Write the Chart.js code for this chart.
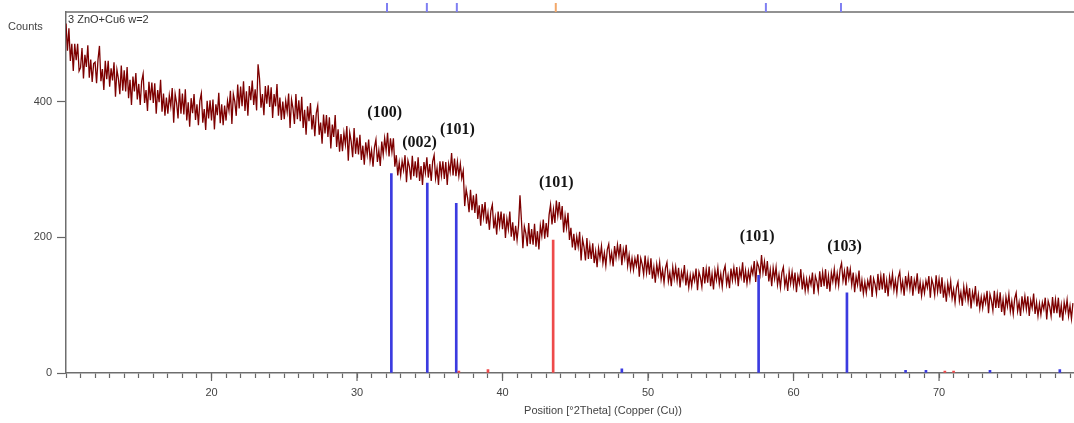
<!DOCTYPE html>
<html>
<head>
<meta charset="utf-8">
<script src="https://cdn.jsdelivr.net/npm/chart.js@4/dist/chart.umd.min.js"></script>
<style>
  html, body { margin: 0; padding: 0; background: #fff; overflow: hidden; }
  #wrap { width: 1078px; height: 423px; position: relative; }
</style>
</head>
<body>
<div id="wrap"><canvas id="chart"></canvas></div>
<script>
// scan: 2theta from 10.0 in steps of 0.1, one row per degree
const scanStart = 10;
const scanStep = 0.1;
const counts = [
  515, 475, 508, 460, 485, 445, 485, 461, 485, 445,   // 10
  450, 479, 434, 469, 451, 483, 435, 462, 429, 456,   // 11
  458, 427, 462, 482, 430, 448, 417, 460, 433, 460,   // 12
  422, 449, 431, 458, 407, 447, 434, 411, 453, 416,   // 13
  446, 415, 451, 405, 432, 395, 437, 415, 442, 403,   // 14
  426, 395, 430, 441, 398, 417, 386, 429, 402, 428,   // 15
  398, 427, 382, 417, 399, 432, 385, 412, 379, 406,   // 16
  382, 409, 393, 420, 369, 411, 398, 375, 419, 382,   // 17
  412, 381, 418, 372, 399, 363, 405, 383, 411, 373,   // 18
  396, 365, 401, 412, 369, 389, 358, 401, 375, 402,   // 19
  372, 403, 359, 396, 380, 413, 368, 396, 365, 394,   // 20
  372, 401, 387, 416, 367, 411, 400, 379, 425, 390,   // 21
  422, 393, 430, 386, 415, 379, 423, 402, 431, 395,   // 22
  418, 387, 455, 434, 391, 411, 380, 423, 397, 424,   // 23
  392, 421, 376, 411, 393, 426, 379, 406, 373, 400,   // 24
  374, 401, 385, 412, 361, 403, 390, 367, 411, 374,   // 25
  402, 371, 407, 361, 388, 351, 393, 371, 398, 359,   // 26
  380, 349, 383, 394, 351, 369, 338, 381, 353, 380,   // 27
  348, 377, 331, 366, 348, 380, 333, 359, 326, 352,   // 28
  327, 354, 337, 364, 313, 354, 341, 318, 361, 323,   // 29
  347, 322, 351, 314, 335, 307, 340, 322, 344, 313,   // 30
  328, 304, 333, 344, 311, 328, 305, 341, 322, 346,   // 31
  328, 354, 319, 346, 326, 346, 304, 321, 291, 310,   // 32
  291, 312, 299, 321, 281, 313, 304, 285, 320, 290,   // 33
  312, 288, 318, 283, 305, 277, 311, 295, 318, 288,   // 34
  308, 283, 312, 321, 287, 302, 277, 312, 291, 312,   // 35
  286, 311, 277, 308, 296, 324, 291, 316, 290, 311,   // 36
  290, 308, 287, 298, 246, 271, 258, 237, 270, 240,   // 37
  262, 236, 264, 227, 247, 217, 249, 230, 252, 220,   // 38
  236, 211, 239, 248, 213, 229, 204, 238, 217, 238,   // 39
  212, 235, 199, 227, 212, 238, 201, 222, 195, 217,   // 40
  196, 217, 262, 225, 184, 216, 206, 187, 221, 190,   // 41
  212, 189, 220, 186, 209, 182, 217, 202, 226, 198,   // 42
  221, 200, 233, 248, 219, 241, 221, 254, 232, 252,   // 43
  226, 246, 207, 232, 214, 236, 196, 214, 185, 205,   // 44
  181, 201, 186, 208, 166, 197, 186, 166, 199, 168,   // 45
  188, 168, 191, 162, 179, 156, 184, 169, 187, 162,   // 46
  177, 158, 182, 190, 164, 177, 157, 187, 170, 189,   // 47
  172, 190, 159, 182, 169, 189, 158, 174, 153, 169,   // 48
  152, 169, 158, 175, 142, 169, 160, 145, 173, 148,   // 49
  166, 145, 169, 139, 156, 133, 160, 145, 163, 138,   // 50
  152, 133, 155, 163, 135, 148, 128, 156, 139, 156,   // 51
  136, 155, 126, 149, 138, 159, 129, 146, 126, 144,   // 52
  128, 146, 136, 154, 122, 149, 141, 127, 156, 132,   // 53
  153, 133, 157, 128, 146, 123, 151, 137, 155, 131,   // 54
  146, 127, 150, 158, 131, 144, 125, 154, 137, 155,   // 55
  137, 156, 128, 152, 141, 163, 133, 151, 132, 150,   // 56
  136, 155, 146, 165, 134, 163, 157, 145, 174, 148,   // 57
  164, 143, 165, 135, 152, 128, 155, 139, 156, 130,   // 58
  145, 126, 148, 156, 128, 141, 121, 149, 132, 149,   // 59
  129, 148, 119, 143, 132, 153, 123, 141, 121, 138,   // 60
  122, 140, 130, 148, 116, 143, 135, 121, 150, 127,   // 61
  148, 128, 153, 124, 143, 120, 148, 135, 153, 130,   // 62
  147, 129, 153, 162, 136, 150, 129, 157, 139, 153,   // 63
  130, 148, 119, 142, 130, 151, 120, 137, 117, 134,   // 64
  118, 136, 126, 144, 112, 139, 131, 117, 146, 122,   // 65
  143, 123, 147, 118, 136, 113, 142, 128, 146, 122,   // 66
  137, 118, 141, 149, 122, 135, 114, 143, 126, 144,   // 67
  124, 143, 114, 137, 126, 147, 117, 134, 114, 132,   // 68
  118, 136, 126, 143, 111, 138, 130, 115, 144, 120,   // 69
  138, 117, 141, 111, 128, 105, 132, 117, 135, 110,   // 70
  123, 104, 126, 134, 106, 119, 99, 127, 110, 127,    // 71
  106, 125, 95, 119, 107, 128, 98, 115, 95, 112,      // 72
  96, 114, 103, 121, 88, 116, 107, 92, 121, 96,       // 73
  116, 96, 119, 90, 108, 85, 112, 98, 116, 91,        // 74
  106, 87, 110, 118, 91, 104, 84, 113, 95, 113,       // 75
  94, 113, 84, 107, 96, 117, 87, 104, 84, 102,        // 76
  86, 104, 94, 111, 79, 106, 98, 84, 112, 88,         // 77
  108, 88, 111, 82, 100, 77, 104, 91, 108, 84,        // 78
  99, 80, 103                                         // 79
];

// reference pattern sticks
const refPos    = [32.36, 34.83, 36.82, 43.48, 57.6, 63.67, 37.0, 39.0, 48.2, 67.7, 69.1, 70.4, 71.0, 73.5, 78.3];
const refHeight = [294, 280, 250, 196, 144, 118, 3, 5, 6, 4, 4, 3, 3, 4, 5];
const refPhase  = ['ZnO', 'ZnO', 'ZnO', 'Cu', 'ZnO', 'ZnO', 'Cu', 'Cu', 'ZnO', 'ZnO', 'ZnO', 'Cu', 'Cu', 'ZnO', 'ZnO'];

// markers in the strip above the plot
const stripPos   = [32.06, 34.8, 36.86, 43.66, 58.1, 63.26];
const stripPhase = ['ZnO', 'ZnO', 'ZnO', 'Cu', 'ZnO', 'ZnO'];

// hkl labels
const hkl  = ['(100)', '(002)', '(101)', '(101)', '(101)', '(103)'];
const hklX = [31.9, 34.3, 36.9, 43.7, 57.5, 63.5];
const hklY = [383, 339, 359, 280, 200, 186];

const xMajor = [20, 30, 40, 50, 60, 70];
const yTicks = [0, 200, 400];

const stickColor = { ZnO: '#3b3be0', Cu: '#ee4a4a' };
const stripColor = { ZnO: '#7f7ff2', Cu: '#f3a86a' };

const pattern = counts.map((c, i) => ({ x: +(scanStart + i * scanStep).toFixed(1), y: c }));
const sticks = refPos.map((p, i) => ({ x: p, y: refHeight[i] }));

const overlay = {
  id: 'overlay',
  afterDraw(chart) {
    const { ctx, chartArea: a, scales: { x, y } } = chart;
    ctx.save();
    // top frame line
    ctx.strokeStyle = '#6e6e6e';
    ctx.lineWidth = 1.5;
    ctx.beginPath();
    ctx.moveTo(a.left, a.top);
    ctx.lineTo(chart.width, a.top);
    ctx.stroke();
    // strip markers
    ctx.lineWidth = 2;
    stripPos.forEach((p, i) => {
      const px = x.getPixelForValue(p);
      ctx.strokeStyle = stripColor[stripPhase[i]];
      ctx.beginPath();
      ctx.moveTo(px, a.top - 9);
      ctx.lineTo(px, a.top);
      ctx.stroke();
    });
    // longer major ticks
    ctx.strokeStyle = '#666';
    ctx.lineWidth = 1.2;
    xMajor.forEach(v => {
      const px = x.getPixelForValue(v);
      ctx.beginPath();
      ctx.moveTo(px, a.bottom);
      ctx.lineTo(px, a.bottom + 8);
      ctx.stroke();
    });
    // hkl labels
    ctx.font = 'bold 16px "Liberation Serif"';
    ctx.fillStyle = '#151515';
    ctx.textAlign = 'center';
    ctx.textBaseline = 'middle';
    hkl.forEach((t, i) => {
      ctx.fillText(t, x.getPixelForValue(hklX[i]), y.getPixelForValue(hklY[i]));
    });
    // texts
    ctx.font = '11px "Liberation Sans"';
    ctx.fillStyle = '#333';
    ctx.textAlign = 'left';
    ctx.fillText('3 ZnO+Cu6 w=2', a.left + 2, a.top + 8);
    ctx.fillStyle = '#444';
    ctx.fillText('Counts', 8, 27);
    ctx.textAlign = 'center';
    ctx.fillText('Position [°2Theta] (Copper (Cu))', 603, 411);
    ctx.restore();
  }
};

new Chart(document.getElementById('chart'), {
  type: 'scatter',
  data: {
    datasets: [
      {
        type: 'bar',
        data: sticks,
        backgroundColor: refPhase.map(p => stickColor[p]),
        barThickness: 2,
        order: 0
      },
      {
        type: 'line',
        data: pattern,
        borderColor: '#7d0000',
        borderWidth: 1.3,
        pointRadius: 0,
        tension: 0,
        order: 1
      }
    ]
  },
  options: {
    responsive: true,
    maintainAspectRatio: false,
    animation: false,
    layout: { autoPadding: false, padding: { top: 12, left: 0, right: 0, bottom: 0 } },
    plugins: { legend: { display: false }, tooltip: { enabled: false } },
    scales: {
      x: {
        type: 'linear',
        min: 10,
        max: 79.3,
        offset: false,
        afterFit: s => { s.height = 50; },
        afterBuildTicks: s => {
          const t = [];
          for (let v = 10; v <= 79; v++) t.push({ value: v });
          s.ticks = t;
        },
        ticks: {
          autoSkip: false,
          maxRotation: 0,
          padding: 8,
          color: '#444',
          font: { family: 'Liberation Sans', size: 11 },
          callback: v => (xMajor.includes(v) ? String(v) : '')
        },
        grid: { drawOnChartArea: false, offset: false, tickLength: 5, tickColor: '#666', tickWidth: 1.2 },
        border: { color: '#6e6e6e', width: 1.5 }
      },
      y: {
        min: 0,
        max: 532,
        afterFit: s => { s.width = 66; },
        afterBuildTicks: s => { s.ticks = yTicks.map(v => ({ value: v })); },
        ticks: {
          padding: 5,
          color: '#444',
          font: { family: 'Liberation Sans', size: 11 }
        },
        grid: { drawOnChartArea: false, tickLength: 9, tickColor: '#666', tickWidth: 1.2 },
        border: { color: '#6e6e6e', width: 1.5 }
      }
    }
  },
  plugins: [overlay]
});
</script>
</body>
</html>
